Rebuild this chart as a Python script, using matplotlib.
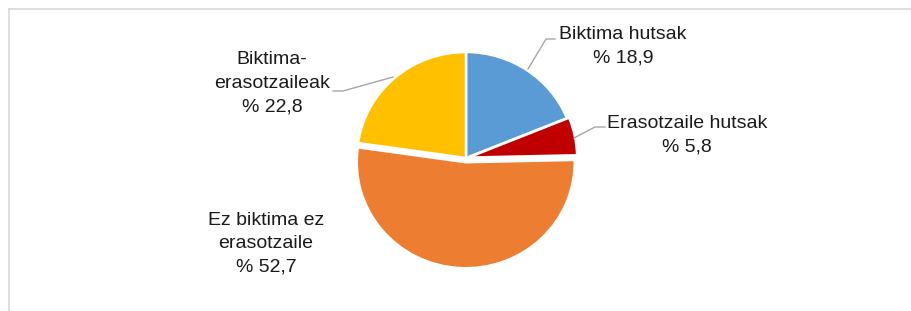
import matplotlib
matplotlib.use("Agg")
import matplotlib.pyplot as plt
from matplotlib.lines import Line2D

plt.rcParams["font.family"] = ["Liberation Sans", "DejaVu Sans"]

# data
labels = ["Biktima hutsak", "Erasotzaile hutsak", "Ez biktima ez\nerasotzaile", "Biktima-\nerasotzaileak"]
values = [18.9, 5.8, 52.7, 22.8]
colors = ["#5B9BD5", "#C00000", "#ED7D31", "#FFC000"]
explode = [0.0, 0.02, 0.04, 0.0]

W, H = 911, 311

fig = plt.figure(figsize=(W / 100, H / 100), dpi=100)

# pie in its own axes: 109 px wide radius, 106 px tall radius (slightly squashed)
rx, ry = 109, 106
cx, cy = 466, 158
pad = 1.15
pie_ax = fig.add_axes([(cx - rx * pad) / W, (H - cy - ry * pad) / H,
                       2 * rx * pad / W, 2 * ry * pad / H])
pie_ax.pie(values, colors=colors, explode=explode, startangle=90, counterclock=False,
           radius=1.0, wedgeprops=dict(edgecolor="white", linewidth=1.8))
pie_ax.set_xlim(-pad, pad)
pie_ax.set_ylim(-pad, pad)
pie_ax.set_aspect("auto")
pie_ax.axis("off")

# overlay axes in pixel coordinates for labels and leader lines
ax = fig.add_axes([0, 0, 1, 1])
ax.set_xlim(0, W)
ax.set_ylim(0, H)
ax.axis("off")


def py(y):
    # pixel row from top -> data y
    return H - y


# data labels (positions in pixels from top-left)
label_pos = [(623, 46), (687, 135), (266, 244), (272, 83)]
for lab, v, (x, y) in zip(labels, values, label_pos):
    txt = f"{lab}\n% {v:.1f}".replace(".", ",")
    ax.text(x, py(y), txt, ha="center", va="center", fontsize=14,
            color="#1a1a1a", linespacing=1.5)

# leader lines
leaders = [
    [(528, 69), (546, 39), (555, 39)],
    [(574, 138), (595, 127), (605, 127)],
    [(393, 77), (343, 91), (333, 91)],
]
for pts in leaders:
    xs = [p[0] for p in pts]
    ys = [py(p[1]) for p in pts]
    ax.plot(xs, ys, color="#A6A6A6", linewidth=1.0)

# chart area border (left and top edges visible)
fig.add_artist(Line2D([8.5 / W, 8.5 / W], [0, 1 - 8.5 / H], color="#D9D9D9", linewidth=1.2))
fig.add_artist(Line2D([8.5 / W, 1], [1 - 8.5 / H, 1 - 8.5 / H], color="#D9D9D9", linewidth=1.2))

fig.savefig("out.png", dpi=100)
